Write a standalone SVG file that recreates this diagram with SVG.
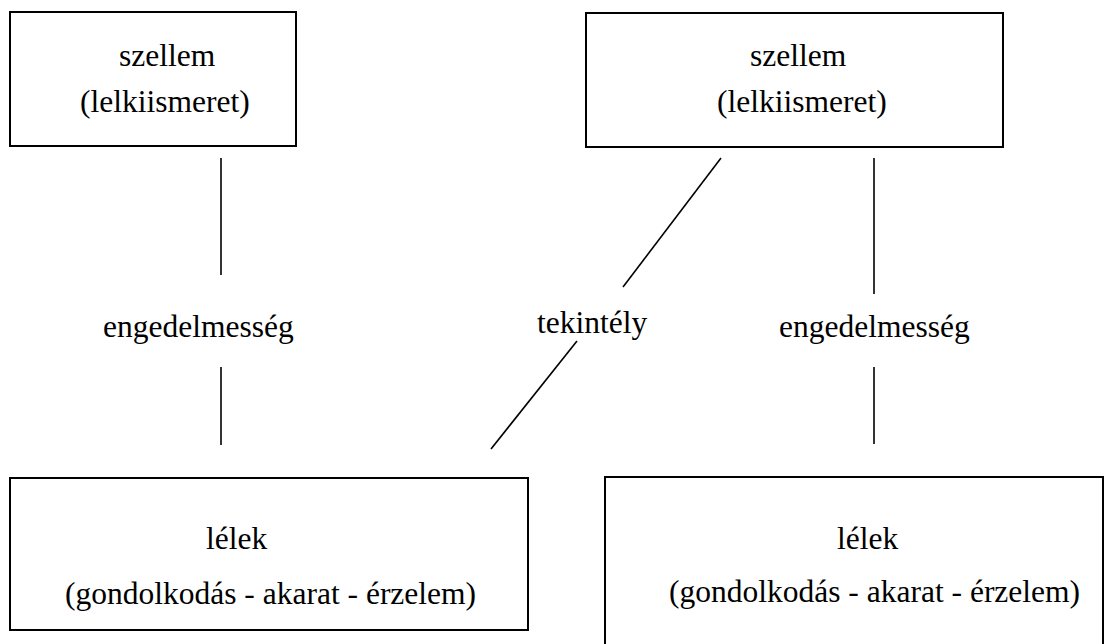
<svg xmlns="http://www.w3.org/2000/svg" width="1112" height="644" viewBox="0 0 1112 644">
<style>
.box{fill:#fff;stroke:#000;stroke-width:2}
.t{font-family:'Liberation Serif','Tinos','DejaVu Serif',serif;font-size:31.5px;fill:#000}
.c{stroke:#000;stroke-width:1.6;fill:none}
</style>
<rect width="1112" height="644" fill="#fff"/>
<g id="connectors">
<line class="c" x1="221" y1="158" x2="221" y2="275"/>
<line class="c" x1="221" y1="367" x2="221" y2="445"/>
<line class="c" x1="721" y1="158" x2="623" y2="287"/>
<line class="c" x1="577" y1="341" x2="491" y2="449"/>
<line class="c" x1="874" y1="158" x2="874" y2="294"/>
<line class="c" x1="874" y1="367" x2="874" y2="444"/>
<text class="t" font-family="Liberation Serif" x="103" y="337">engedelmesség</text>
<text class="t" font-family="Liberation Serif" x="537" y="333">tekintély</text>
<text class="t" font-family="Liberation Serif" x="779" y="337">engedelmesség</text>
</g>
<g id="szellem1">
<rect class="box" x="10" y="12" width="286" height="134"/>
<text class="t" font-family="Liberation Serif" x="119" y="66">szellem</text>
<text class="t" font-family="Liberation Serif" x="80" y="112">(lelkiismeret)</text>
</g>
<g id="szellem2">
<rect class="box" x="586" y="13" width="417" height="134"/>
<text class="t" font-family="Liberation Serif" x="750" y="66">szellem</text>
<text class="t" font-family="Liberation Serif" x="717" y="112">(lelkiismeret)</text>
</g>
<g id="lelek1">
<rect class="box" x="10" y="478" width="518" height="152"/>
<text class="t" font-family="Liberation Serif" x="206" y="549">lélek</text>
<text class="t" font-family="Liberation Serif" x="65" y="604">(gondolkodás - akarat - érzelem)</text>
</g>
<g id="lelek2">
<rect class="box" x="605" y="477" width="498" height="180"/>
<text class="t" font-family="Liberation Serif" x="837" y="549">lélek</text>
<text class="t" font-family="Liberation Serif" x="669" y="602">(gondolkodás - akarat - érzelem)</text>
</g>
</svg>
